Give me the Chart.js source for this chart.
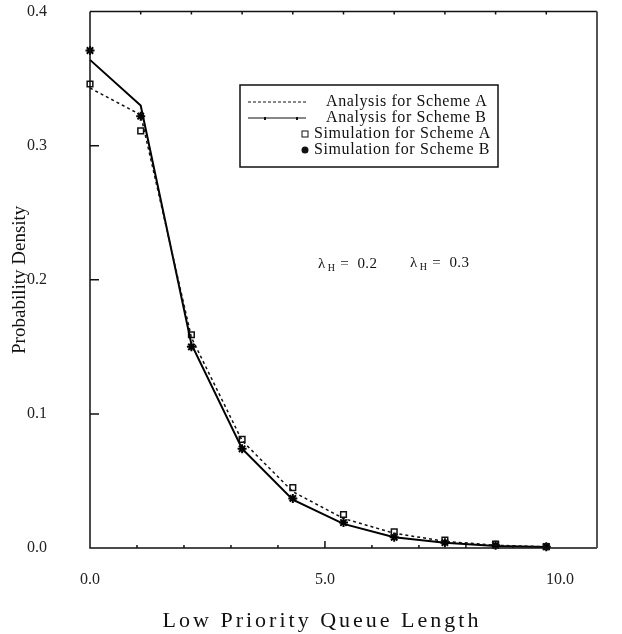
<!DOCTYPE html>
<html lang="en">
<head>
  <meta charset="UTF-8">
  <title>Low Priority Queue Length distribution</title>
  <script src="https://cdn.jsdelivr.net/npm/chart.js"></script>
  <style>
    html, body { margin: 0; padding: 0; background: #fff; }
    #wrap { width: 622px; height: 634px; }
  </style>
</head>
<body>
<div id="wrap"><canvas id="myChart" width="622" height="634"></canvas></div>

<script>
  // values
  const queueLength = [0, 1, 2, 3, 4, 5, 6, 7, 8, 9];
  const analysisA = [0.343, 0.323, 0.157, 0.080, 0.042, 0.022, 0.011, 0.005, 0.002, 0.001];
  const analysisB = [0.364, 0.330, 0.152, 0.074, 0.036, 0.018, 0.008, 0.004, 0.0015, 0.0007];
  const simA = [0.346, 0.311, 0.159, 0.081, 0.045, 0.025, 0.012, 0.006, 0.003, 0.001];
  const simB = [0.371, 0.322, 0.150, 0.074, 0.037, 0.019, 0.008, 0.004, 0.002, 0.001];
  const xTickLabels = [0, 5, 10];
  const yTickLabels = [0, 0.1, 0.2, 0.3, 0.4];

  const serif = '"Liberation Serif", "DejaVu Serif", serif';

  let pts = function (ys) {
    return queueLength.map((x, i) => ({ x: x, y: ys[i] }));
  };

  // frame, inward ticks, legend box, lambda note, x title
  let decor = {
    id: 'decor',
    afterDraw(chart) {
      let ctx = chart.ctx;
      let a = chart.chartArea;
      let xs = chart.scales.x, x2 = chart.scales.x2, ys = chart.scales.y;
      ctx.save();
      ctx.strokeStyle = '#111';
      ctx.lineWidth = 1.5;
      ctx.beginPath();
      ctx.moveTo(a.left, a.top); ctx.lineTo(a.left, a.bottom); ctx.lineTo(a.right, a.bottom);
      ctx.moveTo(a.left, a.top); ctx.lineTo(a.right, a.top);
      ctx.stroke();
      ctx.strokeStyle = '#555';
      ctx.lineWidth = 2;
      ctx.beginPath();
      ctx.moveTo(a.right, a.top); ctx.lineTo(a.right, a.bottom);
      ctx.stroke();

      ctx.strokeStyle = '#111';
      ctx.lineWidth = 1.5;
      ctx.beginPath();
      [0.1, 0.2, 0.3].forEach(v => {
        let y = ys.getPixelForValue(v);
        ctx.moveTo(a.left, y); ctx.lineTo(a.left + 9, y);
      });
      for (let k = 1; k < 10; k++) {
        let px = xs.getPixelForValue(k);
        ctx.moveTo(px, a.top); ctx.lineTo(px, a.top + 3);
        let bx = x2.getPixelForValue(k);
        ctx.moveTo(bx, a.bottom); ctx.lineTo(bx, a.bottom - (k === 5 ? 7 : 3));
      }
      ctx.stroke();

      // legend
      let lx = 240, ly = 85, lw = 258, lh = 82;
      ctx.lineWidth = 1.5;
      ctx.strokeStyle = '#111';
      ctx.strokeRect(lx, ly, lw, lh);
      ctx.font = '16px ' + serif;
      ctx.letterSpacing = '0.6px';
      ctx.fillStyle = '#111';
      ctx.textBaseline = 'middle';
      ctx.textAlign = 'left';
      let rows = [102, 118, 134, 150];
      ctx.lineWidth = 1;
      ctx.setLineDash([3, 2]);
      ctx.beginPath(); ctx.moveTo(248, rows[0]); ctx.lineTo(306, rows[0]); ctx.stroke();
      ctx.setLineDash([]);
      ctx.beginPath(); ctx.moveTo(248, rows[1]); ctx.lineTo(306, rows[1]); ctx.stroke();
      ctx.fillRect(264, rows[1] - 1, 2, 3); ctx.fillRect(296, rows[1] - 1, 2, 3);
      ctx.fillText('Analysis for Scheme A', 326, rows[0]);
      ctx.fillText('Analysis for Scheme B', 326, rows[1]);
      ctx.strokeRect(302, rows[2] - 3, 6, 6);
      ctx.beginPath(); ctx.arc(305, rows[3], 3.5, 0, Math.PI * 2); ctx.fill();
      ctx.fillText('Simulation for Scheme A', 314, rows[2]);
      ctx.fillText('Simulation for Scheme B', 314, rows[3]);

      // lambda note
      ctx.letterSpacing = '0.4px';
      let note = function (x, y, val) {
        ctx.font = '15px ' + serif;
        ctx.fillText('\u03bb', x, y);
        let w = ctx.measureText('\u03bb').width;
        ctx.font = '10px ' + serif;
        ctx.fillText('H', x + w + 2, y + 4);
        let w2 = ctx.measureText('H').width;
        ctx.font = '15px ' + serif;
        ctx.fillText('=  ' + val, x + w + w2 + 7, y);
      };
      note(318, 264, '0.2');
      note(410, 263, '0.3');

      // x axis title, widely spaced like the original
      ctx.font = '22px ' + serif;
      ctx.letterSpacing = '3px';
      ctx.textAlign = 'center';
      ctx.fillText('Low Priority Queue Length', 322, 621);
      ctx.restore();
    }
  };

  let ctx = document.getElementById('myChart').getContext('2d');
  let myChart = new Chart(ctx, {
    type: 'scatter',
    data: {
      datasets: [{
        label: 'Analysis for Scheme A',
        data: pts(analysisA),
        showLine: true,
        borderColor: '#111',
        borderWidth: 1.5,
        borderDash: [3, 3],
        pointRadius: 0,
        tension: 0,
        clip: false
      }, {
        label: 'Analysis for Scheme B',
        data: pts(analysisB),
        showLine: true,
        borderColor: '#000',
        borderWidth: 2,
        pointRadius: 0,
        tension: 0,
        clip: false
      }, {
        label: 'Simulation for Scheme A',
        data: pts(simA),
        pointStyle: 'rect',
        pointRadius: 4,
        borderColor: '#111',
        borderWidth: 1.5,
        backgroundColor: 'rgba(255,255,255,0)',
        clip: false
      }, {
        label: 'Simulation for Scheme B',
        data: pts(simB),
        pointStyle: 'star',
        pointRadius: 4.5,
        borderColor: '#000',
        borderWidth: 2,
        backgroundColor: '#000',
        clip: false
      }]
    },
    options: {
      responsive: false,
      animation: false,
      layout: { padding: { top: 11, right: 25, left: 0, bottom: 0 } },
      plugins: {
        legend: { display: false },
        tooltip: { enabled: false }
      },
      scales: {
        x: {
          type: 'linear',
          position: 'bottom',
          min: 0,
          max: 10,
          grid: { display: false },
          border: { display: false },
          ticks: { display: false },
          afterFit: s => { s.height = 0; }
        },
        x2: {
          type: 'linear',
          position: 'bottom',
          min: 0,
          max: 10.79,
          // invisible tick marks only push the labels down
          grid: { display: true, drawOnChartArea: false, drawTicks: true, tickLength: 20, tickColor: 'rgba(0,0,0,0)' },
          border: { display: false },
          afterBuildTicks: s => { s.ticks = xTickLabels.map(v => ({ value: v })); },
          ticks: {
            padding: 2,
            maxRotation: 0,
            color: '#222',
            font: { family: serif, size: 16 },
            callback: v => v.toFixed(1)
          },
          afterFit: s => { s.height = 86; }
        },
        y: {
          min: 0,
          max: 0.4,
          grid: { display: true, drawOnChartArea: false, drawTicks: true, tickLength: 41, tickColor: 'rgba(0,0,0,0)' },
          border: { display: false },
          afterBuildTicks: s => { s.ticks = yTickLabels.map(v => ({ value: v })); },
          ticks: {
            padding: 2,
            color: '#222',
            font: { family: serif, size: 16 },
            callback: v => v.toFixed(1)
          },
          title: {
            display: true,
            text: 'Probability Density',
            color: '#111',
            font: { family: serif, size: 19 },
            padding: { top: 9 }
          },
          afterFit: s => { s.width = 90; }
        }
      }
    },
    plugins: [decor]
  });
</script>

</body>
</html>
